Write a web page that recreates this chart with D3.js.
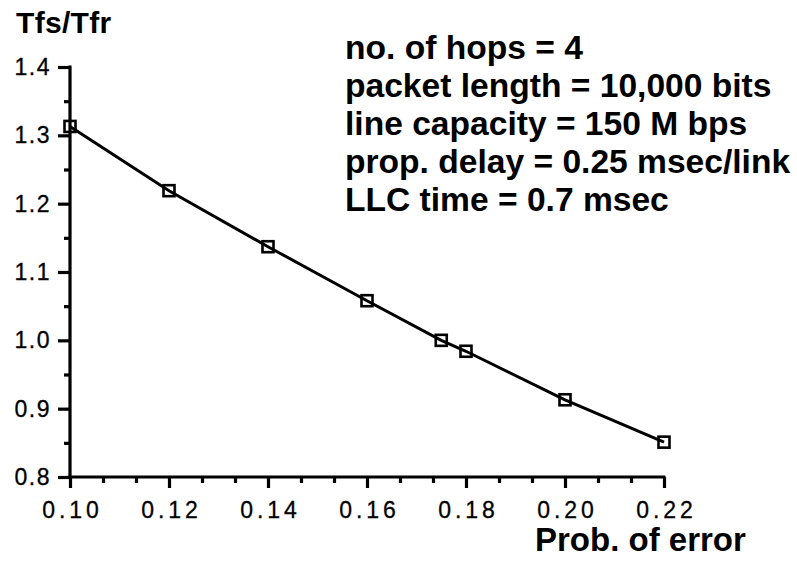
<!DOCTYPE html>
<html>
<head>
<meta charset="utf-8">
<script src="https://cdn.jsdelivr.net/npm/d3@7"></script>
<style>
  html, body { margin: 0; padding: 0; background: #fff; }
  svg { display: block; }
  text { font-family: "Liberation Sans", Arial, Helvetica, sans-serif; fill: #000; }
</style>
</head>
<body>
<svg id="chart" width="797" height="561"></svg>
<script>
// Tfs/Tfr ratio against probability of error
const errorProb = [0.10, 0.12, 0.14, 0.16, 0.175, 0.18, 0.20, 0.22];
const ratio     = [1.313, 1.219, 1.137, 1.058, 1.000, 0.984, 0.913, 0.851];

const xMajorTicks = [0.10, 0.12, 0.14, 0.16, 0.18, 0.20, 0.22];
const xMinorPerMajor = 3;
const yMajorTicks = [0.8, 0.9, 1.0, 1.1, 1.2, 1.3, 1.4];
const yMinorTicks = [0.85, 0.95, 1.05, 1.15, 1.25, 1.35];

const paramLines = [
  "no. of hops = 4",
  "packet length = 10,000 bits",
  "line capacity = 150 M bps",
  "prop. delay = 0.25 msec/link",
  "LLC time = 0.7 msec"
];
const yTitle = "Tfs/Tfr";
const xTitle = "Prob. of error";

const svg = d3.select("#chart");
const plotLeft = 70, plotRight = 664, plotTop = 67, plotBottom = 477;
const axisW = 3.2;
const fontFam = "'Liberation Sans', Arial, sans-serif";

const x = d3.scaleLinear().domain([0.10, 0.22]).range([plotLeft, plotRight]);
const y = d3.scaleLinear().domain([0.8, 1.4]).range([plotBottom, plotTop]);

// minor x ticks: subdivide each major interval
const xMinorTicks = [];
for (let i = 0; i < xMajorTicks.length - 1; i++) {
  const step = (xMajorTicks[i + 1] - xMajorTicks[i]) / xMinorPerMajor;
  for (let k = 1; k < xMinorPerMajor; k++) xMinorTicks.push(xMajorTicks[i] + k * step);
}

// x axis
const gx = svg.append("g").attr("transform", `translate(0,${plotBottom})`);
gx.call(d3.axisBottom(x).tickValues(xMinorTicks).tickSize(6).tickSizeOuter(0).tickFormat(""));
gx.selectAll(".tick line").attr("stroke-width", axisW);
gx.select(".domain").attr("stroke-width", axisW).attr("d", `M${plotLeft - 1.5},0H${plotRight + 1.5}`);
const gxMaj = svg.append("g").attr("transform", `translate(0,${plotBottom})`);
gxMaj.call(d3.axisBottom(x).tickValues(xMajorTicks).tickSize(11).tickPadding(14)
  .tickSizeOuter(0).tickFormat(d3.format(".2f")));
gxMaj.select(".domain").remove();
gxMaj.selectAll(".tick line").attr("stroke-width", axisW);
gxMaj.selectAll(".tick text")
  .attr("font-size", 23).attr("letter-spacing", "4px").attr("dx", "2px")
  .attr("stroke", "#000").attr("stroke-width", 0.3)
  .style("font-family", fontFam);

// y axis
const gy = svg.append("g").attr("transform", `translate(${plotLeft},0)`);
gy.call(d3.axisLeft(y).tickValues(yMinorTicks).tickSize(6).tickSizeOuter(0).tickFormat(""));
gy.selectAll(".tick line").attr("stroke-width", axisW);
gy.select(".domain").attr("stroke-width", axisW).attr("d", `M0,${plotTop - 1.5}V${plotBottom + 1.5}`);
const gyMaj = svg.append("g").attr("transform", `translate(${plotLeft},0)`);
gyMaj.call(d3.axisLeft(y).tickValues(yMajorTicks).tickSize(12).tickPadding(7)
  .tickSizeOuter(0).tickFormat(d3.format(".1f")));
gyMaj.select(".domain").remove();
gyMaj.selectAll(".tick line").attr("stroke-width", axisW);
gyMaj.selectAll(".tick text")
  .attr("font-size", 23).attr("letter-spacing", "1.5px")
  .attr("stroke", "#000").attr("stroke-width", 0.3)
  .style("font-family", fontFam);

// data line
const pts = errorProb.map((p, i) => [p, ratio[i]]);
svg.append("path")
  .datum(pts)
  .attr("fill", "none")
  .attr("stroke", "#000")
  .attr("stroke-width", 3)
  .attr("d", d3.line().x(d => x(d[0])).y(d => y(d[1])));

// square markers
const s = 11;
svg.append("g").selectAll("rect")
  .data(pts)
  .join("rect")
  .attr("x", d => x(d[0]) - s / 2)
  .attr("y", d => y(d[1]) - s / 2)
  .attr("width", s).attr("height", s)
  .attr("fill", "none")
  .attr("stroke", "#000")
  .attr("stroke-width", 2.6);

// titles
svg.append("text")
  .attr("x", 16).attr("y", 33)
  .attr("font-size", 30).attr("font-weight", "bold")
  .attr("letter-spacing", "0.3px")
  .text(yTitle);

svg.append("text")
  .attr("x", 535).attr("y", 551)
  .attr("font-size", 33).attr("font-weight", "bold")
  .text(xTitle);

// parameter block
svg.append("g").selectAll("text")
  .data(paramLines)
  .join("text")
  .attr("x", 345)
  .attr("y", (d, i) => 59 + i * 38)
  .attr("font-size", 33.6).attr("font-weight", "bold")
  .text(d => d);
</script>
</body>
</html>
